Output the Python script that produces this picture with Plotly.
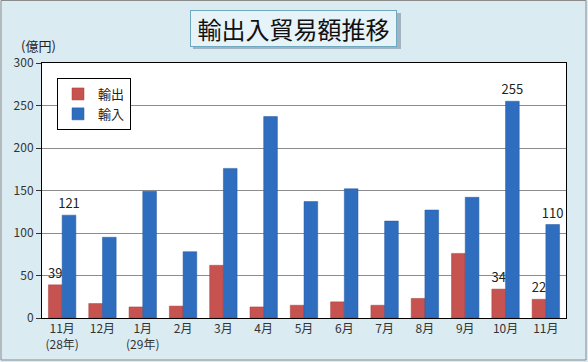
import plotly.graph_objects as go

months = ["11月<br>(28年)", "12月", "1月<br>(29年)", "2月", "3月", "4月", "5月",
          "6月", "7月", "8月", "9月", "10月", "11月"]
exports = [39, 17, 13, 14, 62, 13, 15, 19, 15, 23, 76, 34, 22]
imports = [121, 95, 149, 78, 176, 237, 137, 152, 114, 127, 142, 255, 110]
export_labels = ["39", "", "", "", "", "", "", "", "", "", "", "34", "22"]
import_labels = ["121", "", "", "", "", "", "", "", "", "", "", "255", "110"]
y_ticks = [0, 50, 100, 150, 200, 250, 300]

x = list(range(len(months)))
FONT = "Noto Sans CJK JP"

fig = go.Figure()
fig.add_trace(go.Bar(
    x=x, y=exports, name="輸出", text=export_labels, textposition="outside",
    textfont=dict(size=13, color="#222"), constraintext="none",
    marker=dict(color="#C65350", line=dict(color="#A83E3B", width=0.5)),
    cliponaxis=False,
))
fig.add_trace(go.Bar(
    x=x, y=imports, name="輸入", text=import_labels, textposition="outside",
    textfont=dict(size=13, color="#222"), constraintext="none",
    marker=dict(color="#2F6DBF", line=dict(color="#245A9E", width=0.5)),
    cliponaxis=False,
))

L, R, T, B = 42, 22, 63, 44
W, H = 588, 362
pw, ph = W - L - R, H - T - B

def px(xp):
    return (xp - L) / pw

def py(yp):
    return (H - B - yp) / ph

fig.update_layout(
    width=W, height=H,
    margin=dict(l=L, r=R, t=T, b=B, autoexpand=False),
    paper_bgcolor="#DBEBF2",
    plot_bgcolor="white",
    font=dict(family=FONT, size=12, color="#333"),
    barmode="group", bargap=0.32, bargroupgap=0.0,
    showlegend=True,
    legend=dict(
        x=px(57), y=py(78), xanchor="left", yanchor="top",
        bgcolor="white", bordercolor="black", borderwidth=1,
        font=dict(size=13, color="#222"), itemwidth=30,
        tracegroupgap=6,
    ),
    xaxis=dict(
        tickmode="array", tickvals=x, ticktext=months,
        range=[-0.5, len(months) - 0.5], automargin=False,
        showline=True, linecolor="black", linewidth=1, mirror=True,
        ticks="", tickfont=dict(size=12, color="#333"),
        showgrid=False, zeroline=False,
    ),
    yaxis=dict(
        range=[0, 300], tickmode="array", tickvals=y_ticks, automargin=False,
        showline=True, linecolor="black", linewidth=1, mirror=True,
        ticks="outside", ticklen=5, tickcolor="#333",
        gridcolor="#8C8C8C", gridwidth=1, zeroline=False,
        tickfont=dict(size=12, color="#333"),
    ),
    shapes=[
        dict(type="rect", xref="paper", yref="paper",
             x0=px(1), x1=px(586), y0=py(360), y1=py(0.5),
             line=dict(color="#8A8A8A", width=1), fillcolor="rgba(0,0,0,0)",
             layer="below"),
        dict(type="rect", xref="paper", yref="paper",
             x0=px(193), x1=px(401), y0=py(49), y1=py(13),
             line=dict(width=0), fillcolor="rgba(90,110,130,0.45)",
             layer="below"),
    ],
    annotations=[
        dict(text="輸出入貿易額推移", xref="paper", yref="paper",
             x=px(293.5), y=py(28), xanchor="center", yanchor="middle",
             showarrow=False, font=dict(size=24, color="#111", family=FONT),
             bgcolor="#E6F3F8", bordercolor="#6FA9C0", borderwidth=1,
             width=203, height=33),
        dict(text="(億円)", xref="paper", yref="paper",
             x=px(38), y=py(45), xanchor="center", yanchor="middle",
             showarrow=False, font=dict(size=13, color="#222", family=FONT)),
    ],
)

fig.write_html(
    "out.html",
    config={"displayModeBar": False},
    post_script="document.body.style.margin='0';document.body.style.overflow='hidden';",
)
